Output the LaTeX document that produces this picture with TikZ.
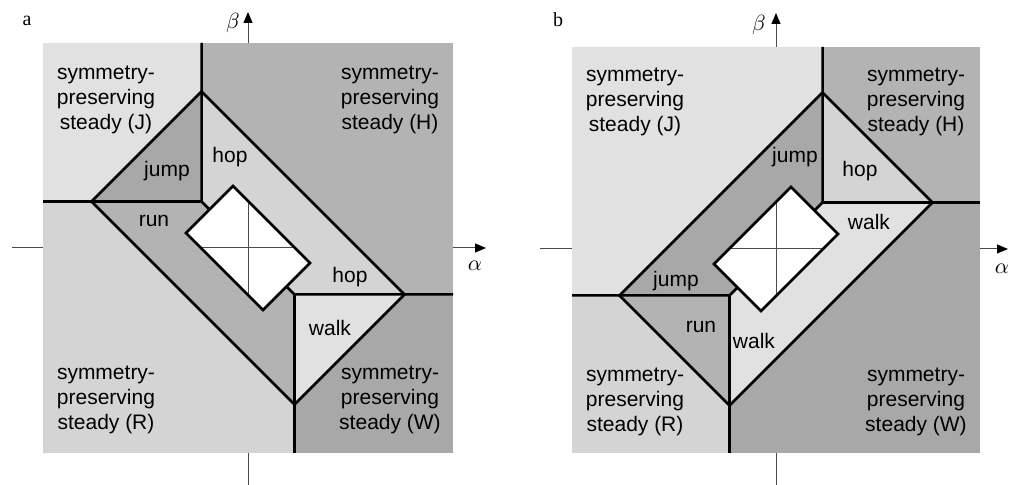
\documentclass[tikz,border=0pt]{standalone}
\usepackage{fontspec}
\setmainfont{Liberation Sans}
\newfontfamily\serifx{Liberation Serif}
\usetikzlibrary{arrows.meta}
\definecolor{cJ}{HTML}{E1E1E1}
\definecolor{cR}{HTML}{D4D4D4}
\definecolor{cH}{HTML}{B3B3B3}
\definecolor{cW}{HTML}{A8A8A8}
\begin{document}
\begin{tikzpicture}[x=0.5pt,y=0.5pt,
  thickl/.style={line width=1.25pt, line join=miter, line cap=butt},
  axisl/.style={line width=0.5pt, draw=black!70},
  axarrow/.style={axisl, -{Triangle[length=5.5pt,width=4.5pt,color=black]}},
  lbl/.style={font=\fontsize{10.5}{12.5}\selectfont, inner sep=0pt, anchor=base},
  blk/.style={lbl, align=center},
  greek/.style={font=\fontsize{10.5}{12}\selectfont, inner sep=0pt},
  panellbl/.style={font=\serifx\fontsize{10}{12}\selectfont, inner sep=0pt}]
\useasboundingbox (0,0) rectangle (1009,485);

% ================= panel a =================
\begin{scope}[shift={(248,237)}]
\coordinate (aT) at (-46.5,156.5);
\coordinate (aL) at (-156.5,46.5);
\coordinate (aB) at (46.5,-156.5);
\coordinate (aR) at (156.5,-46.5);
\coordinate (aC1) at (-46.5,46.5);
\coordinate (aC2) at (46.5,-46.5);
\coordinate (aD1) at (-38.5,38.5);
\coordinate (aD2) at (38.5,-38.5);
\coordinate (aIt) at (-15,62);
\coordinate (aIl) at (-62,15);
\coordinate (aIb) at (15,-62);
\coordinate (aIr) at (62,-15);
\fill[cR] (-205,-205) rectangle (205,205);
\fill[cJ] (-205,46.5) rectangle (-46.5,205);
\fill[cH] (-46.5,-46.5) rectangle (205,205);
\fill[cW] (46.5,-205) rectangle (205,-46.5);
\fill[cR] (aT) -- (aR) -- (aB) -- (aL) -- cycle;
\fill[cH] (aL) -- (aC1) -- (aD1) -- (aIl) -- (aIb) -- (aD2) -- (aC2) -- (aB) -- cycle;
\fill[cW] (aT) -- (aL) -- (aC1) -- cycle;
\fill[cJ] (aR) -- (aC2) -- (aB) -- cycle;
\fill[white] (aIt) -- (aIr) -- (aIb) -- (aIl) -- cycle;
% axes
\draw[axisl] (-236,0) -- (-205,0);
\draw[axarrow] (205,0) -- (238,0);
\draw[axisl] (0,-237) -- (0,-205);
\draw[axarrow] (0,205) -- (0,236);
\begin{scope}
\clip (aIt) -- (aIr) -- (aIb) -- (aIl) -- cycle;
\draw[axisl] (-80,0) -- (80,0) (0,-80) -- (0,80);
\end{scope}
% boundaries
\draw[thickl] (-46.5,205) -- (aT) -- (aC1) -- (aD1);
\draw[thickl] (-205,46.5) -- (aL) -- (aC1);
\draw[thickl] (205,-46.5) -- (aR) -- (aC2) -- (aD2);
\draw[thickl] (46.5,-205) -- (aB) -- (aC2);
\draw[thickl] (aT) -- (aR) -- (aB) -- (aL) -- cycle;
\draw[thickl] (aIt) -- (aIr) -- (aIb) -- (aIl) -- cycle;
\end{scope}
\node[panellbl] (alab) at (27,464) {a};
\node[greek] (abeta) at (233,462) {$\beta$};
\node[greek] (aalpha) at (475,219) {$\alpha$};
\node[blk] (aJ) at (106,355) {symmetry-\\preserving\\steady (J)};
\node[blk] (aH) at (390,355) {symmetry-\\preserving\\steady (H)};
\node[blk] (aRl) at (106,55) {symmetry-\\preserving\\steady (R)};
\node[blk] (aW) at (390,55) {symmetry-\\preserving\\steady (W)};
\node[lbl] (ajump) at (167,308) {jump};
\node[lbl] (ahop1) at (230,322) {hop};
\node[lbl] (arun) at (154,258) {run};
\node[lbl] (ahop2) at (350,202) {hop};
\node[lbl] (awalk) at (330,149) {walk};

% ================= panel b =================
\begin{scope}[shift={(776,236)}]
\coordinate (bT) at (46.5,156.5);
\coordinate (bR) at (156.5,46.5);
\coordinate (bB) at (-46.5,-156.5);
\coordinate (bL) at (-156.5,-46.5);
\coordinate (bC1) at (46.5,46.5);
\coordinate (bC2) at (-46.5,-46.5);
\coordinate (bD1) at (38.5,38.5);
\coordinate (bD2) at (-38.5,-38.5);
\coordinate (bIt) at (15,62);
\coordinate (bIr) at (62,15);
\coordinate (bIb) at (-15,-62);
\coordinate (bIl) at (-62,-15);
\fill[cW] (-204,-204) rectangle (204,202);
\fill[cJ] (-204,-46.5) rectangle (46.5,202);
\fill[cH] (46.5,46.5) rectangle (204,202);
\fill[cR] (-204,-204) rectangle (-46.5,-46.5);
\fill[cW] (bT) -- (bR) -- (bB) -- (bL) -- cycle;
\fill[cJ] (bR) -- (bC1) -- (bD1) -- (bIr) -- (bIb) -- (bD2) -- (bC2) -- (bB) -- cycle;
\fill[cR] (bT) -- (bR) -- (bC1) -- cycle;
\fill[cH] (bL) -- (bC2) -- (bB) -- cycle;
\fill[white] (bIt) -- (bIr) -- (bIb) -- (bIl) -- cycle;
% axes
\draw[axisl] (-236,0) -- (-204,0);
\draw[axarrow] (204,0) -- (232,0);
\draw[axisl] (0,-236) -- (0,-204);
\draw[axarrow] (0,202) -- (0,236);
\begin{scope}
\clip (bIt) -- (bIr) -- (bIb) -- (bIl) -- cycle;
\draw[axisl] (-80,0) -- (80,0) (0,-80) -- (0,80);
\end{scope}
% boundaries
\draw[thickl] (46.5,202) -- (bT) -- (bC1) -- (bD1);
\draw[thickl] (204,46.5) -- (bR) -- (bC1);
\draw[thickl] (-204,-46.5) -- (bL) -- (bC2) -- (bD2);
\draw[thickl] (-46.5,-204) -- (bB) -- (bC2);
\draw[thickl] (bT) -- (bR) -- (bB) -- (bL) -- cycle;
\draw[thickl] (bIt) -- (bIr) -- (bIb) -- (bIl) -- cycle;
\end{scope}
\node[panellbl] (blab) at (558,465) {b};
\node[greek] (bbeta) at (759,460) {$\beta$};
\node[greek] (balpha) at (1002,216) {$\alpha$};
\node[blk] (bJ) at (635,353) {symmetry-\\preserving\\steady (J)};
\node[blk] (bH) at (916,353) {symmetry-\\preserving\\steady (H)};
\node[blk] (bRl) at (635,53) {symmetry-\\preserving\\steady (R)};
\node[blk] (bW) at (916,53) {symmetry-\\preserving\\steady (W)};
\node[lbl] (bjump1) at (795,322) {jump};
\node[lbl] (bhop) at (860,308) {hop};
\node[lbl] (bwalk1) at (869,255) {walk};
\node[lbl] (bjump2) at (676,198) {jump};
\node[lbl] (brun) at (701,152) {run};
\node[lbl] (bwalk2) at (754,136) {walk};
\end{tikzpicture}
\end{document}
